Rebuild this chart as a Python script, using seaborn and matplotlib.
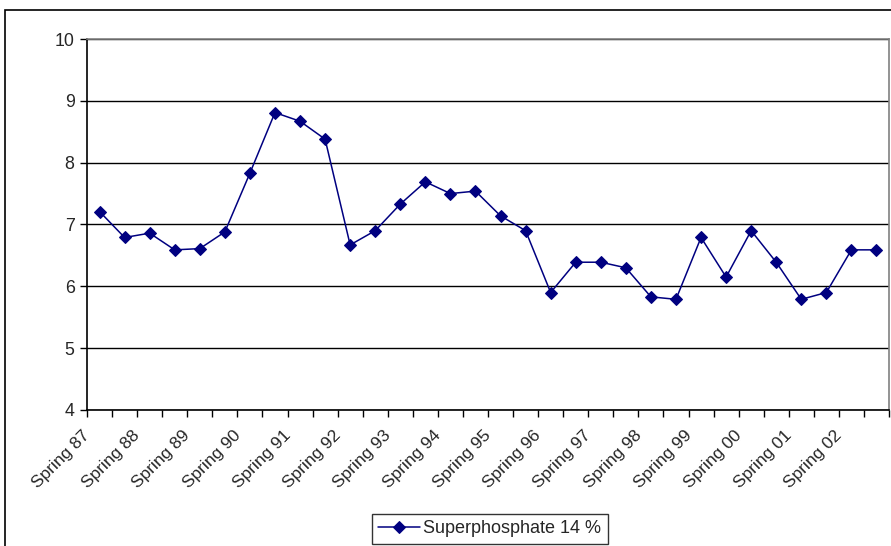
import numpy as np
import pandas as pd
import matplotlib
matplotlib.use("Agg")
import matplotlib.pyplot as plt
import matplotlib.transforms as mtransforms
from matplotlib.patches import Rectangle
import seaborn as sns

# === DATA ===
years = ["87", "88", "89", "90", "91", "92", "93", "94",
         "95", "96", "97", "98", "99", "00", "01", "02"]
seasons = []
for yr in years:
    seasons += ["Spring " + yr, "Autumn " + yr]

price = [7.21, 6.79, 6.86, 6.59, 6.61, 6.88, 7.83, 8.81,
         8.67, 8.38, 6.67, 6.90, 7.33, 7.69, 7.50, 7.54,
         7.14, 6.90, 5.90, 6.39, 6.39, 6.30, 5.83, 5.79,
         6.79, 6.15, 6.90, 6.39, 5.79, 5.90, 6.59, 6.59]

series_name = "Superphosphate 14 %"
y_ticks = [4, 5, 6, 7, 8, 9, 10]

df = pd.DataFrame({"season": seasons, "price": price})
df["pos"] = np.arange(len(df))

# === PLOT ===
sns.set_style("white")
plt.rcParams["font.family"] = ["Liberation Sans", "DejaVu Sans"]

W, H = 891, 546
fig = plt.figure(figsize=(W / 100, H / 100), dpi=100)
ax = fig.add_axes([87 / W, (H - 410) / H, (889 - 87) / W, (410 - 39) / H])

sns.lineplot(data=df, x="pos", y="price", ax=ax, color="#000080",
             linewidth=1.1, marker="D", markersize=6.5,
             markeredgecolor="#000080", label=series_name, legend=False)

n = len(df)
ax.set_xlim(-0.5, n - 0.5)
ax.set_ylim(4, 10)

# category boundaries as tick marks, labels for every Spring
ax.set_xticks(np.arange(n + 1) - 0.5)
ax.set_xticklabels([])
ax.set_xticks(df["pos"][::2], minor=True)
ax.set_xticklabels(df["season"][::2], minor=True, rotation=45,
                   ha="right", va="center", rotation_mode="anchor",
                   fontsize=12.5)
ax.tick_params(axis="x", which="major", direction="out", length=5,
               width=1, color="black", bottom=True)
ax.tick_params(axis="x", which="minor", length=0, pad=16.5)
offset = mtransforms.ScaledTranslation(-12 / 100, 0, fig.dpi_scale_trans)
for lbl in ax.get_xticklabels(minor=True):
    lbl.set_transform(lbl.get_transform() + offset)

ax.set_yticks(y_ticks)
ax.set_yticklabels([str(v) for v in y_ticks], fontsize=12.8)
ax.tick_params(axis="y", direction="out", length=5, width=1,
               color="black", left=True, pad=4)

ax.yaxis.grid(True, color="black", linewidth=1)
ax.xaxis.grid(False)
ax.set_axisbelow(True)
ax.set_xlabel("")
ax.set_ylabel("")

for side in ["left", "bottom"]:
    ax.spines[side].set_color("black")
    ax.spines[side].set_linewidth(1.2)
for side in ["top", "right"]:
    ax.spines[side].set_color("#808080")
    ax.spines[side].set_linewidth(1.2)

# legend box at the bottom
handles, labels = ax.get_legend_handles_labels()
leg = fig.legend(handles, labels, loc="upper left",
                 bbox_to_anchor=(372 / W, (H - 514) / H), fancybox=False,
                 frameon=True, fontsize=13, handlelength=2.3,
                 borderpad=0.35, handletextpad=0.2, borderaxespad=0)
leg.get_frame().set_edgecolor("black")
leg.get_frame().set_linewidth(1)

# outer chart border
fig.patches.append(Rectangle((5 / W, -0.02), 1.0, (H - 9.5) / H + 0.02,
                             transform=fig.transFigure, fill=False,
                             edgecolor="black", linewidth=1.2))

fig.savefig("out.png", dpi=100)
